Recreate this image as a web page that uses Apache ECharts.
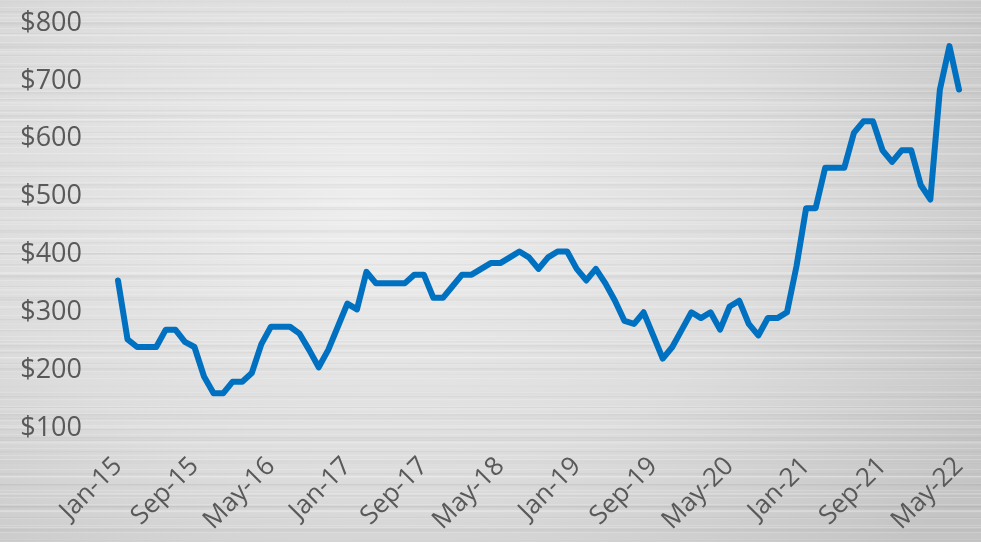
<!DOCTYPE html>
<html>
<head>
<meta charset="utf-8">
<script src="https://cdn.jsdelivr.net/npm/echarts@6/dist/echarts.min.js"></script>
<style>
html,body{margin:0;padding:0;}
#bg{position:absolute;left:0;top:0;width:981px;height:542px;
background:
 repeating-linear-gradient(180deg, rgba(255,255,255,0.35) 0px, rgba(255,255,255,0) 1px, rgba(255,255,255,0) 7px),
 repeating-linear-gradient(180deg, rgba(120,120,120,0.10) 0px, rgba(120,120,120,0) 2px, rgba(120,120,120,0) 11px),
 repeating-linear-gradient(180deg, rgba(255,255,255,0.25) 0px, rgba(255,255,255,0) 3px, rgba(255,255,255,0) 17px),
 repeating-linear-gradient(180deg, rgba(90,90,90,0.08) 0px, rgba(90,90,90,0) 4px, rgba(90,90,90,0) 23px),
 radial-gradient(ellipse 75% 90% at 38% 38%, #eeeeee 0%, #dddddd 55%, #c4c4c4 100%);
}
#chart{position:absolute;left:0;top:0;width:981px;height:542px;}
</style>
</head>
<body>
<div id="bg"></div>
<div id="chart"></div>
<script>
const months = ['Jan','Feb','Mar','Apr','May','Jun','Jul','Aug','Sep','Oct','Nov','Dec'];
const years = ['15','16','17','18','19','20','21','22'];
const categories = [];
years.forEach(y => months.forEach(m => categories.push(m + '-' + y)));
categories.length = 89; // Jan-15 .. May-22

const v2015 = [355,253,240,240,240,270,270,249,240,189,160,160];
const v2016 = [180,180,195,245,275,275,275,263,235,205,235,275];
const v2017 = [315,305,370,350,350,350,350,365,365,325,325,345];
const v2018 = [365,365,375,385,385,395,405,395,375,395,405,405];
const v2019 = [375,355,375,350,320,285,280,300,260,220,240,270];
const v2020 = [300,290,300,270,310,320,280,260,290,290,300,380];
const v2021 = [480,480,550,550,550,610,630,630,580,560,580,580];
const v2022 = [520,495,685,760,685];
const values = [].concat(v2015,v2016,v2017,v2018,v2019,v2020,v2021,v2022);

const yTicks = [100,200,300,400,500,600,700,800];

const chart = echarts.init(document.getElementById('chart'), null, {renderer:'canvas'});
chart.setOption({
  backgroundColor: 'transparent',
  animation: false,
  grid: {left: 118, right: 22, top: 23, bottom: 114, containLabel: false},
  xAxis: {
    type: 'category',
    data: categories,
    boundaryGap: false,
    axisLine: {show: false},
    axisTick: {show: false},
    splitLine: {show: false},
    axisLabel: {
      interval: 7,
      rotate: 45,
      margin: 34,
      color: '#595959',
      fontSize: 26,
      fontFamily: 'Open Sans'
    }
  },
  yAxis: {
    type: 'value',
    min: yTicks[0],
    max: yTicks[yTicks.length-1],
    interval: 100,
    axisLine: {show: false},
    axisTick: {show: false},
    splitLine: {show: false},
    axisLabel: {
      margin: 36,
      color: '#595959',
      fontSize: 27,
      fontFamily: 'Open Sans',
      formatter: v => '$' + v
    }
  },
  series: [{
    type: 'line',
    data: values,
    showSymbol: false,
    symbol: 'none',
    lineStyle: {color: '#0070C0', width: 6, join: 'round', cap: 'round'},
    itemStyle: {color: '#0070C0'}
  }]
});
</script>
</body>
</html>
